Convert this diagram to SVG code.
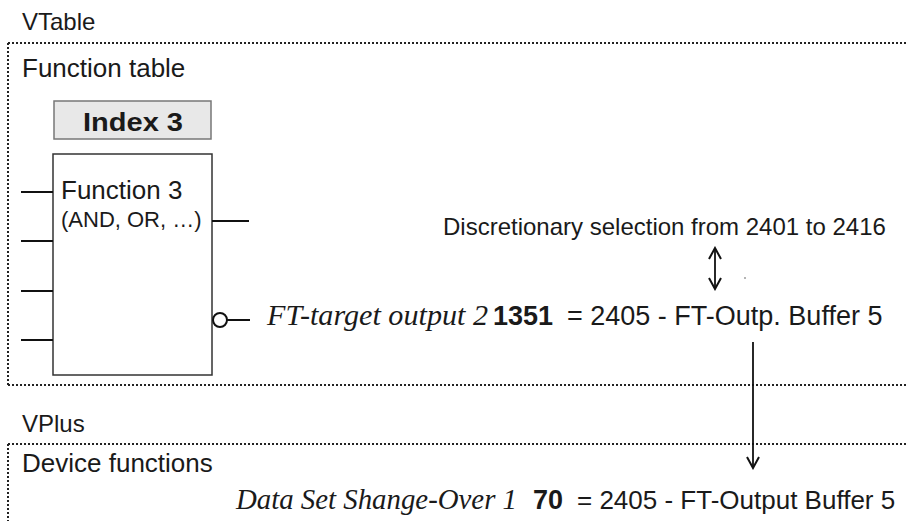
<svg xmlns="http://www.w3.org/2000/svg" width="907" height="521" viewBox="0 0 907 521">
<defs>
<style>
.sans{font-family:"Liberation Sans",Arial,sans-serif;fill:#1a1a1a}
.serif{font-family:"Liberation Serif","Times New Roman",serif;font-style:italic;fill:#1a1a1a}
.b{font-weight:bold}
.dot{stroke:#222;stroke-width:2;stroke-dasharray:2 2;fill:none}
.ln{stroke:#111;stroke-width:2;fill:none}
.arr{stroke:#111;stroke-width:1.8;fill:none}
</style>
<marker id="ah" viewBox="0 0 14 14" refX="12" refY="7" markerWidth="14" markerHeight="14" markerUnits="userSpaceOnUse" orient="auto-start-reverse">
<path d="M1,1 L12,7 L1,13" stroke="#111" stroke-width="2" fill="none"/>
</marker>
</defs>
<rect width="907" height="521" fill="#fff"/>

<g id="vtable">
<text class="sans" x="22" y="30" font-size="24">VTable</text>
<path class="dot" d="M8,43 H907 M8,43 V385 M8,385 H907"/>
<text class="sans" x="22" y="77" font-size="26">Function table</text>
</g>

<g id="index3">
<rect x="54" y="101" width="157" height="38" fill="#e8e8e8" stroke="#777" stroke-width="1.5"/>
<text class="sans b" x="133" y="131" font-size="25" text-anchor="middle" textLength="100" lengthAdjust="spacingAndGlyphs">Index 3</text>
</g>

<g id="function3">
<rect x="53" y="154" width="159" height="221" fill="#fff" stroke="#333" stroke-width="1.5"/>
<text class="sans" x="61" y="199" font-size="26">Function 3</text>
<text class="sans" x="61" y="227" font-size="22">(AND, OR, …)</text>
<path class="ln" d="M21,192 H53 M21,241 H53 M21,291 H53 M21,340 H53 M212,221 H249"/>
<circle cx="220" cy="320" r="7" fill="#fff" stroke="#111" stroke-width="2"/>
<path class="ln" d="M227,320 H250"/>
</g>

<g id="ft-target">
<text y="325"><tspan class="serif" x="267" font-size="29.5" textLength="221" lengthAdjust="spacingAndGlyphs">FT-target output 2</tspan><tspan class="sans b" x="493" font-size="27">1351</tspan><tspan class="sans" x="567" font-size="27">= 2405 - FT-Outp. Buffer 5</tspan></text>
</g>

<g id="selection">
<text class="sans" x="443" y="235" font-size="24">Discretionary selection from 2401 to 2416</text>
<circle cx="745" cy="278" r="0.8" fill="#555"/>
</g>

<g id="vplus">
<text class="sans" x="22" y="432" font-size="24">VPlus</text>
<path class="dot" d="M8,444 H907 M8,444 V521"/>
<text class="sans" x="22" y="472" font-size="26">Device functions</text>
</g>

<g id="dataset">
<text y="509"><tspan class="serif" x="236" font-size="29" textLength="281" lengthAdjust="spacingAndGlyphs">Data Set Shange-Over 1</tspan><tspan class="sans b" x="533" font-size="27">70</tspan><tspan class="sans" x="577" font-size="26">= 2405 - FT-Output Buffer 5</tspan></text>
</g>

<g id="connectors">
<line class="arr" x1="715" y1="248" x2="715" y2="289" marker-start="url(#ah)" marker-end="url(#ah)"/>
<line class="arr" x1="753" y1="342" x2="753" y2="468" marker-end="url(#ah)"/>
</g>
</svg>
